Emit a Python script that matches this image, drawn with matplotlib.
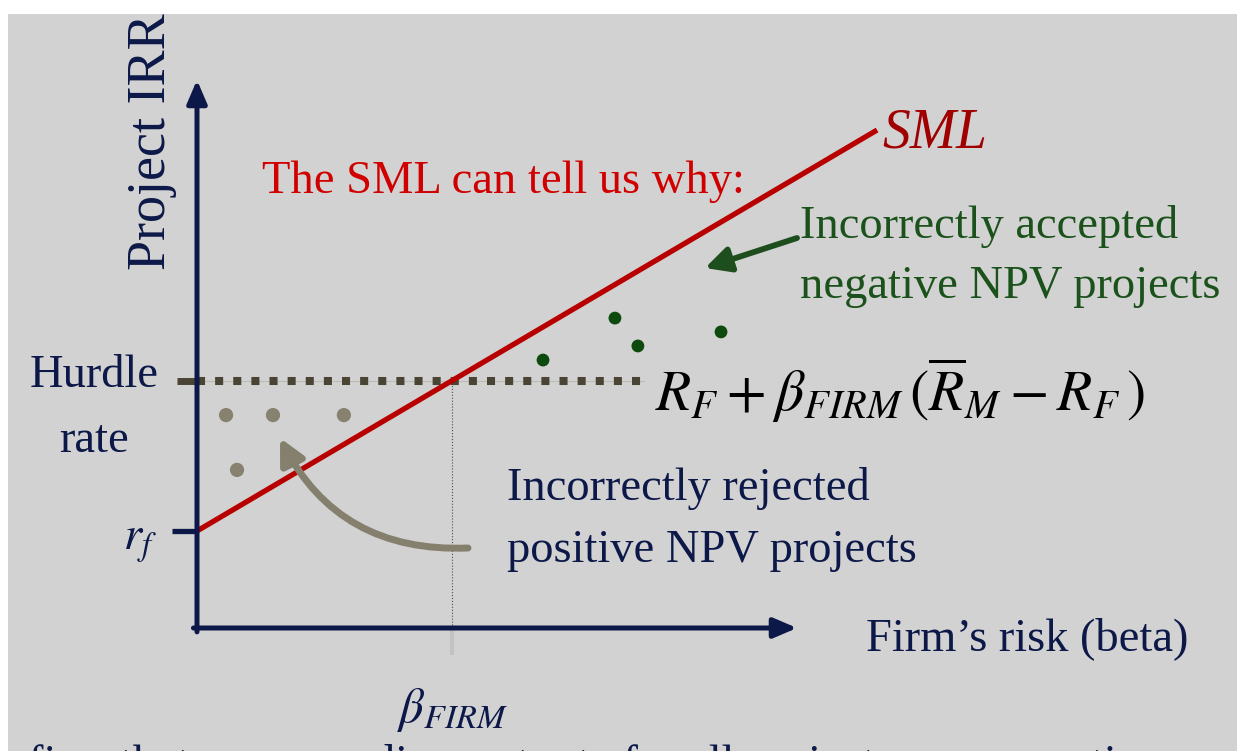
import matplotlib
matplotlib.use("Agg")
import matplotlib.pyplot as plt
from matplotlib.patches import Rectangle

plt.rcParams['mathtext.fontset'] = 'stix'
plt.rcParams['font.family'] = ['Liberation Serif', 'DejaVu Serif']

# ---- model values -------------------------------------------------------
rf = 4.0             # risk-free rate (%)
mrp = 6.2            # market risk premium (%)
beta_firm = 1.0      # firm-wide beta
hurdle = rf + beta_firm * mrp
sml_beta = [0.0, 2.667]
sml_irr = [rf + b * mrp for b in sml_beta]

# projects that pass the hurdle but lie below the SML
accepted_beta = [1.357, 1.639, 1.729, 2.055]
accepted_irr = [11.05, 12.78, 11.63, 12.21]
# projects that fail the hurdle but lie above the SML
rejected_beta = [0.114, 0.298, 0.576, 0.157]
rejected_irr = [8.78, 8.78, 8.78, 6.52]

hurdle_line_end = 1.753
x_axis_end = 2.353
y_axis_end = 22.6

# ---- colours ------------------------------------------------------------
NAVY = '#0c1848'
RED_TXT = '#d00000'
RED_LINE = '#b80000'
SML_TXT = '#a00000'
GREEN_TXT = '#1b521b'
GREEN_DOT = '#0d4a0d'
GRAY_DOT = '#878170'
OLIVE = '#4a4434'
BG = '#d2d2d2'

W, H = 1246, 751
fig = plt.figure(figsize=(W / 100, H / 100), dpi=100, facecolor='white')
fig.patches.append(Rectangle((8 / W, 0), (1237 - 8) / W, (H - 14) / H,
                             transform=fig.transFigure, facecolor=BG,
                             edgecolor='none', zorder=-5))

ax = fig.add_axes([0, 0, 1, 1])
ax.set_facecolor('none')
ax.set_xlim(-0.7725, 4.1137)
ax.set_ylim(-5.0722, 25.897)
ax.axis('off')


def fp(x, y):
    """figure-fraction position from pixel position (origin top-left)"""
    return x / W, 1 - y / H


# hurdle rate: faint guide plus square dots
ax.plot([0, hurdle_line_end], [hurdle, hurdle], color='#bdbcb2', lw=0.8, zorder=2)
ax.plot([0, hurdle_line_end], [hurdle, hurdle], color=OLIVE, lw=5.8,
        linestyle=(0, (1, 1.25)), solid_capstyle='butt', dash_capstyle='butt', zorder=3)
ax.plot([-0.078, 0], [hurdle, hurdle], color=OLIVE, lw=5.0, solid_capstyle='butt', zorder=3)

# beta_firm guide
ax.plot([beta_firm, beta_firm], [0, hurdle], color='#4d4d4d', lw=0.8, linestyle=':', zorder=2)
ax.plot([beta_firm, beta_firm], [0, -1.11], color='#c2c2c2', lw=3.0,
        solid_capstyle='butt', zorder=2)

# SML
ax.plot(sml_beta, sml_irr, color=RED_LINE, lw=3.8, solid_capstyle='butt', zorder=4)

# rf tick
ax.plot([-0.098, 0], [rf, rf], color=NAVY, lw=3.8, solid_capstyle='butt', zorder=5)

# axes with arrows
ax.annotate('', xy=(0, y_axis_end), xytext=(0, -0.16),
            arrowprops=dict(arrowstyle='-|>,head_length=0.7,head_width=0.3',
                            lw=3.6, color=NAVY, mutation_scale=20,
                            shrinkA=0, shrinkB=0), zorder=5)
ax.annotate('', xy=(x_axis_end, 0), xytext=(-0.014, 0),
            arrowprops=dict(arrowstyle='-|>,head_length=0.7,head_width=0.3',
                            lw=3.6, color=NAVY, mutation_scale=20,
                            shrinkA=0, shrinkB=0), zorder=5)

# project dots
ax.scatter(accepted_beta, accepted_irr, s=85, color=GREEN_DOT, edgecolors='none', zorder=6)
ax.scatter(rejected_beta, rejected_irr, s=105, color=GRAY_DOT, edgecolors='none', zorder=6)

# pointer arrows
ax.annotate('', xy=(705, H - 268), xytext=(797, H - 238), xycoords='figure pixels',
            textcoords='figure pixels',
            arrowprops=dict(arrowstyle='-|>,head_length=0.75,head_width=0.38',
                            lw=4.2, color='#1e4d1e', mutation_scale=20,
                            shrinkA=0, shrinkB=0), zorder=7)
ax.annotate('', xy=(280, H - 438), xytext=(468, H - 548), xycoords='figure pixels',
            textcoords='figure pixels',
            arrowprops=dict(arrowstyle='-|>,head_length=0.75,head_width=0.38',
                            connectionstyle='arc3,rad=-0.32',
                            lw=5.0, color='#857f6d', mutation_scale=20,
                            shrinkA=0, shrinkB=0), zorder=7)

# ---- text ---------------------------------------------------------------
FS = 33.5
fig.text(*fp(165, 270), 'Project IRR', rotation=90, rotation_mode='anchor',
         ha='left', va='baseline', fontsize=39, color=NAVY, zorder=3)
fig.text(*fp(262, 193), 'The SML can tell us why:', fontsize=FS, color=RED_TXT,
         ha='left', va='baseline')
fig.text(*fp(882, 147), 'SML', fontsize=40, style='italic', color=SML_TXT,
         ha='left', va='baseline')
fig.text(*fp(800, 238), 'Incorrectly accepted', fontsize=FS, color=GREEN_TXT,
         ha='left', va='baseline')
fig.text(*fp(800, 298), 'negative NPV projects', fontsize=FS, color=GREEN_TXT,
         ha='left', va='baseline')
fig.text(*fp(94, 387), 'Hurdle', fontsize=FS, color=NAVY, ha='center', va='baseline')
fig.text(*fp(94, 452), 'rate', fontsize=FS, color=NAVY, ha='center', va='baseline')
fig.text(*fp(123, 550), r'$r_f$', fontsize=FS, color=NAVY, ha='left', va='baseline')
fig.text(*fp(655, 411), r'$R_F+\beta_{FIRM}\,(\overline{R}_M - R_F\,)$', fontsize=41.5,
         color='black', ha='left', va='baseline')
fig.text(*fp(507, 500), 'Incorrectly rejected', fontsize=FS, color=NAVY,
         ha='left', va='baseline')
fig.text(*fp(507, 562), 'positive NPV projects', fontsize=FS, color=NAVY,
         ha='left', va='baseline')
fig.text(*fp(866, 650), 'Firm\u2019s risk (beta)', fontsize=FS, color=NAVY,
         ha='left', va='baseline')
fig.text(*fp(397, 722), r'$\beta_{FIRM}$', fontsize=35, color=NAVY,
         ha='left', va='baseline')
fig.text(*fp(28, 777), 'firm that uses one discount rate for all projects may over time',
         fontsize=FS, color=NAVY, ha='left', va='baseline')

# white page margins
fig.patches.append(Rectangle((0, 1 - 14 / H), 1, 14 / H, transform=fig.transFigure,
                             facecolor='white', edgecolor='none', zorder=20))
fig.patches.append(Rectangle((0, 0), 8 / W, 1, transform=fig.transFigure,
                             facecolor='white', edgecolor='none', zorder=20))
fig.patches.append(Rectangle((1237 / W, 0), 9 / W, 1, transform=fig.transFigure,
                             facecolor='white', edgecolor='none', zorder=20))

fig.savefig('out.png', dpi=100, facecolor='white')
